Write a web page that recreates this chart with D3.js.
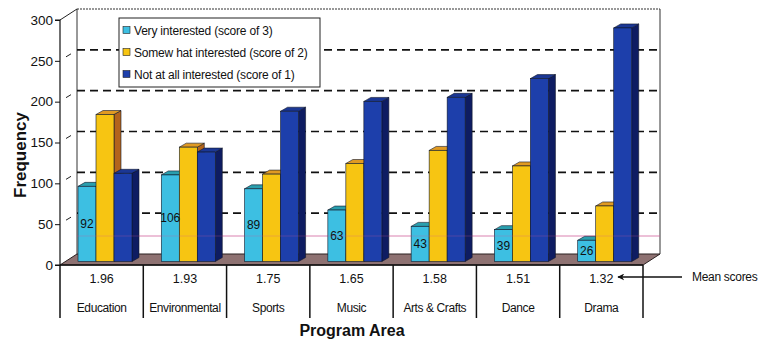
<!DOCTYPE html>
<html><head><meta charset="utf-8">
<script src="https://cdn.jsdelivr.net/npm/d3@7"></script>
<style>body{margin:0;background:#fff}svg{display:block;font-family:"Liberation Sans",Arial,sans-serif}</style>
</head><body><svg id="c" width="775" height="341"></svg>
<script>
const categories = ["Education","Environmental","Sports","Music","Arts & Crafts","Dance","Drama"];
const meanScores = ["1.96","1.93","1.75","1.65","1.58","1.51","1.32"];
const seriesNames = ["Very interested (score of 3)","Somew hat interested (score of 2)","Not at all interested (score of 1)"];
const veryInterested = [92,106,89,63,43,39,26];
const somewhatInterested = [180,140,107,120,136,117,68];
const notInterested = [108,134,184,196,201,224,286];
const yTicks = [0,50,100,150,200,250,300];

const svg = d3.select("#c");
const X0 = 60, X1 = 643, Y0 = 265, Y1 = 20;
const BX = 17, BY = -11; // back wall offset
const y = d3.scaleLinear().domain([0,300]).range([Y0,Y1]);
const x = d3.scaleBand().domain(categories).range([X0,X1]);
const inner = d3.scaleBand().domain([0,1,2]).range([0,54]);
const barOffX = 18, barBase = -3.5, dX = 7, dY = 4;

const colors = [
  {front:"#3dbfe2", top:"#2a9fae", side:"#1f7f9a"},
  {front:"#f7c512", top:"#e09a22", side:"#b3641c"},
  {front:"#1d3fab", top:"#1b3794", side:"#0e1c62"}
];

// floor
svg.append("polygon")
  .attr("points",[[X0,Y0],[X1,Y0],[X1+BX,Y0+BY],[X0+BX,Y0+BY]].join(" "))
  .attr("fill","#8e7272").attr("stroke","#2a2020").attr("stroke-width",1);

// back wall borders
svg.append("line").attr("x1",X0+BX).attr("x2",X1+BX).attr("y1",y(300)+BY).attr("y2",y(300)+BY)
  .attr("stroke","#333").attr("stroke-width",1.2).attr("stroke-dasharray","2 1");
svg.append("line").attr("x1",X0+BX).attr("x2",X0+BX).attr("y1",y(300)+BY).attr("y2",Y0+BY).attr("stroke","#333").attr("stroke-width",1);
svg.append("line").attr("x1",X1+BX).attr("x2",X1+BX).attr("y1",y(300)+BY).attr("y2",Y0+BY).attr("stroke","#333").attr("stroke-width",1);

// gridlines
const grid = yTicks.filter(t=>t>0 && t<300);
svg.append("g").selectAll("line").data(grid).join("line")
  .attr("x1",X0+BX).attr("x2",X1+BX)
  .attr("y1",d=>y(d)+BY).attr("y2",d=>y(d)+BY)
  .attr("stroke","#111").attr("stroke-width",1.6).attr("stroke-dasharray","8 5");
// side wall dashes
svg.append("g").selectAll("line").data(grid.concat([300])).join("line")
  .attr("x1",d=>d===300?X0:X0+6).attr("y1",d=>d===300?y(d):y(d)-4)
  .attr("x2",d=>d===300?X0+BX:X0+11).attr("y2",d=>d===300?y(d)+BY:y(d)-7)
  .attr("stroke","#222").attr("stroke-width",1);

// scan artifact line
svg.append("line").attr("x1",X0+BX).attr("x2",X1+BX).attr("y1",236).attr("y2",236)
  .attr("stroke","#d05a9a").attr("stroke-width",1).attr("opacity",0.55);

// bars
const allSeries = [veryInterested, somewhatInterested, notInterested];
const gBars = svg.append("g");
categories.forEach((c,ci)=>{
  allSeries.forEach((arr,si)=>{
    const v = arr[ci];
    const bx = x(c) + barOffX + inner(si);
    const w = inner.bandwidth();
    const base = Y0 + barBase;
    const top = y(v) + barBase;
    const col = colors[si];
    const g = gBars.append("g");
    g.append("polygon").attr("points",[[bx+w,top],[bx+w+dX,top-dY],[bx+w+dX,base-dY],[bx+w,base]].join(" "))
      .attr("fill",col.side).attr("stroke","#10182a").attr("stroke-width",0.6);
    g.append("polygon").attr("points",[[bx,top],[bx+dX,top-dY],[bx+w+dX,top-dY],[bx+w,top]].join(" "))
      .attr("fill",col.top).attr("stroke","#10182a").attr("stroke-width",0.6);
    g.append("rect").attr("x",bx).attr("y",top).attr("width",w).attr("height",base-top)
      .attr("fill",col.front).attr("stroke","#10182a").attr("stroke-width",0.6);
  });
});

// value labels on cyan bars
svg.append("g").selectAll("text").data(veryInterested).join("text")
  .attr("x",(d,i)=>x(categories[i]) + barOffX + inner(0) + inner.bandwidth()/2)
  .attr("y",d=>y(Math.min(d/2,55)) + barBase + 4)
  .attr("text-anchor","middle").attr("font-size",12).attr("fill","#111")
  .text(d=>d);

// redraw scan line faintly over bars
svg.append("line").attr("x1",X0+BX).attr("x2",X1+BX).attr("y1",236).attr("y2",236)
  .attr("stroke","#d05a9a").attr("stroke-width",0.8).attr("opacity",0.35);

// y axis
const yAxis = d3.axisLeft(y).tickValues(yTicks).tickSize(5).tickPadding(2);
const ga = svg.append("g").attr("transform",`translate(${X0},0)`).call(yAxis);
ga.select(".domain").attr("stroke","#111").attr("stroke-width",1.2).attr("d",`M-5,${Y1}H0V${Y0}H-5`);
ga.selectAll(".tick line").attr("stroke","#111");
ga.selectAll(".tick text").attr("font-size",13.5).attr("fill","#111").attr("font-family","Liberation Sans, Arial, sans-serif");

// table
const tableBottom = 318;
svg.append("line").attr("x1",X0).attr("x2",X1).attr("y1",Y0).attr("y2",Y0).attr("stroke","#111").attr("stroke-width",1.4);
const bounds = categories.map(c=>x(c)).concat([X1]);
svg.append("g").selectAll("line").data(bounds).join("line")
  .attr("x1",d=>d).attr("x2",d=>d).attr("y1",Y0).attr("y2",tableBottom)
  .attr("stroke","#111").attr("stroke-width",1.5);
svg.append("g").selectAll("text").data(meanScores).join("text")
  .attr("x",(d,i)=>x(categories[i])+x.bandwidth()/2).attr("y",283)
  .attr("text-anchor","middle").attr("font-size",12.5).attr("fill","#111").text(d=>d);
svg.append("g").selectAll("text").data(categories).join("text")
  .attr("x",d=>x(d)+x.bandwidth()/2).attr("y",312)
  .attr("text-anchor","middle").attr("font-size",12).attr("letter-spacing","-0.4").attr("fill","#111").text(d=>d);

// mean scores annotation
svg.append("defs").append("marker").attr("id","ah").attr("viewBox","0 0 10 10").attr("refX",9).attr("refY",5)
  .attr("markerWidth",7).attr("markerHeight",7).attr("markerUnits","userSpaceOnUse").attr("orient","auto")
  .append("path").attr("d","M10,5L0,0L3,5L0,10Z").attr("fill","#111");
svg.append("line").attr("x1",682).attr("x2",618).attr("y1",277).attr("y2",277)
  .attr("stroke","#111").attr("stroke-width",1.4).attr("marker-end","url(#ah)");
svg.append("text").attr("x",692).attr("y",281).attr("font-size",12).attr("letter-spacing","-0.3").attr("fill","#111").text("Mean scores");

// axis titles
svg.append("text").attr("x",352).attr("y",336).attr("text-anchor","middle")
  .attr("font-size",16).attr("font-weight","bold").attr("fill","#111").text("Program Area");
svg.append("text").attr("transform","translate(26,155) rotate(-90)").attr("text-anchor","middle")
  .attr("font-size",17).attr("font-weight","bold").attr("fill","#111").text("Frequency");

// legend
const lg = svg.append("g");
lg.append("rect").attr("x",119).attr("y",18).attr("width",201).attr("height",69)
  .attr("fill","#fff").attr("stroke","#222").attr("stroke-width",1);
const rowsY = [30,52,74];
seriesNames.forEach((s,i)=>{
  lg.append("rect").attr("x",123).attr("y",rowsY[i]-3.5).attr("width",7).attr("height",7)
    .attr("fill",colors[i].front).attr("stroke","#222").attr("stroke-width",0.6);
  lg.append("text").attr("x",134).attr("y",rowsY[i]+4.5).attr("font-size",12).attr("letter-spacing","-0.2")
    .attr("fill","#111").text(s);
});
</script></body></html>
